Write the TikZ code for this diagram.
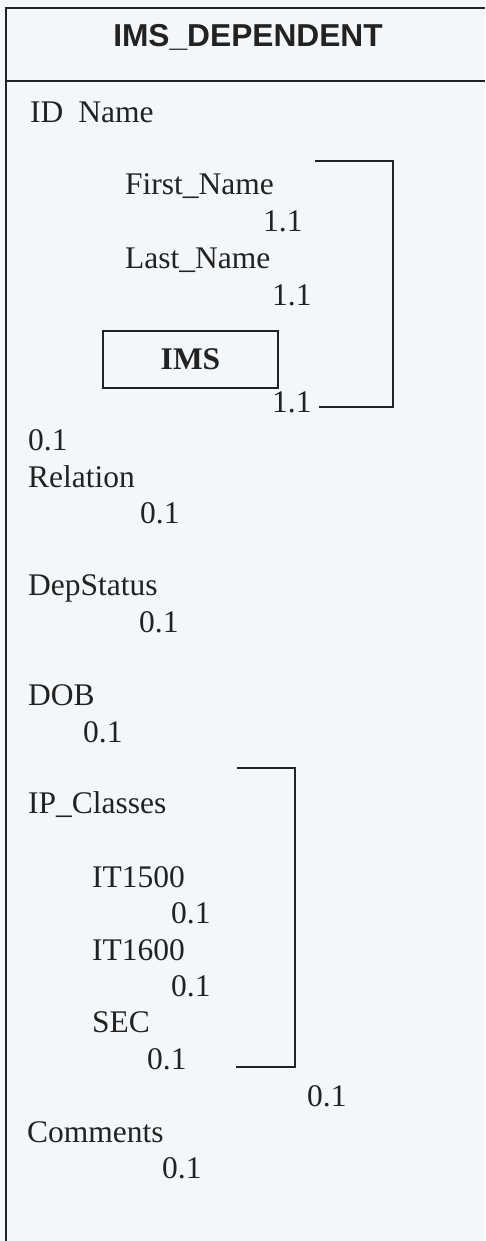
\documentclass[tikz,border=0pt]{standalone}
\usepackage{fontspec}
\setmainfont{Liberation Serif}
\setsansfont{Liberation Sans}
\definecolor{paper}{HTML}{F3F7F9}
\definecolor{ink}{HTML}{222222}
\begin{document}
\begin{tikzpicture}[x=1pt,y=-1pt,
        attr/.style={anchor=base west,inner sep=0pt,text=ink,font=\fontsize{31.5}{36}\selectfont},
        rule/.style={draw=ink,line width=1.6pt}]
        % Paper
        \fill[paper] (0,0) rectangle (485,1241);
        \useasboundingbox (0,0) rectangle (485,1241);

        % Entity frame and title
        \draw[rule] (485,8) -- (6,8) -- (6,1241);
        \draw[rule] (6,81) -- (485,81);
        \node[anchor=base,inner sep=0pt,text=ink,font=\sffamily\bfseries\fontsize{31.7}{36}\selectfont] (title) at (248,47) {IMS\_DEPENDENT};

        % ID Name group
        \node[attr] (idname) at (30,123) {ID\hspace{15pt}Name};
        \node[attr] (first) at (125,195) {First\_Name};
        \node[attr] (firstcard) at (263,232) {1.1};
        \node[attr] (last) at (125,268) {Last\_Name};
        \node[attr] (lastcard) at (272,305) {1.1};
        \node[draw=ink,line width=1.6pt,minimum width=175pt,minimum height=57pt,inner sep=0pt,text=ink,
              font=\bfseries\fontsize{31.5}{36}\selectfont] (ims) at (190.5,359.5) {IMS};
        \node[attr] (imscard) at (272,412) {1.1};
        \node[attr] (idcard) at (28,450) {0.1};

        % Bracket round the name parts
        \coordinate (nametop) at (315,161);
        \coordinate (namebot) at (393,407);
        \draw[rule] (nametop) -| (namebot) -- ([xshift=7pt]imscard.east |- namebot);

        % Plain attributes
        \node[attr] (rel) at (28,487) {Relation};
        \node[attr] (relcard) at (140,523) {0.1};
        \node[attr] (dep) at (28,595) {DepStatus};
        \node[attr] (depcard) at (139,632) {0.1};
        \node[attr] (dob) at (28,705) {DOB};
        \node[attr] (dobcard) at (83,742) {0.1};

        % IP_Classes group
        \node[attr] (ipc) at (28,813) {IP\_Classes};
        \node[attr] (itA) at (92,887) {IT1500};
        \node[attr] (itAcard) at (171,923) {0.1};
        \node[attr] (itB) at (92,960) {IT1600};
        \node[attr] (itBcard) at (171,996) {0.1};
        \node[attr] (sec) at (92,1032) {SEC};
        \node[attr] (seccard) at (147,1069) {0.1};
        \node[attr] (ipccard) at (307,1106) {0.1};

        % Bracket round the classes
        \coordinate (ipctop) at (237,768);
        \coordinate (ipcbot) at (295,1067);
        \draw[rule] (ipctop) -| (ipcbot) -- (236,1067);

        % Comments
        \node[attr] (com) at (27,1142) {Comments};
        \node[attr] (comcard) at (162,1178) {0.1};
\end{tikzpicture}
\end{document}
